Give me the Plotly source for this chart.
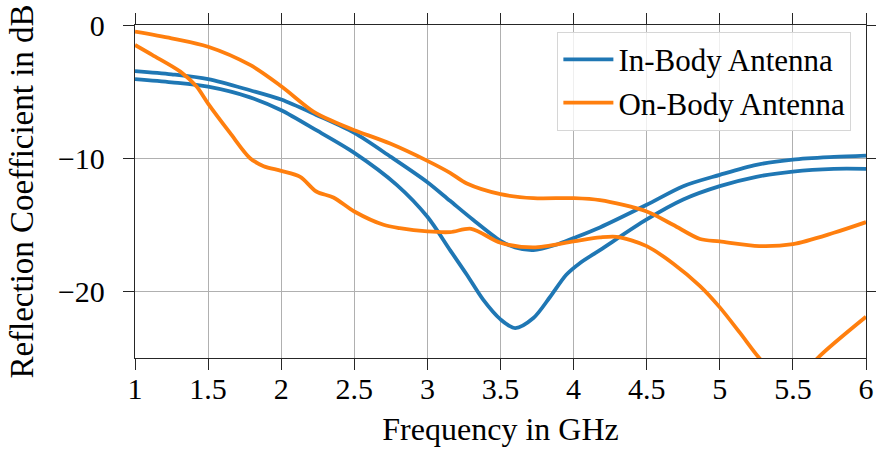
import plotly.graph_objects as go

# Reflection coefficient (S11) of the two antennas, two curves per antenna
in_body_a_x = [1.0, 1.25, 1.5, 1.787, 2.0, 2.24, 2.5, 2.75, 3.0, 3.155, 3.31, 3.5, 3.6,
               3.725, 3.88, 4.0, 4.18, 4.5, 4.75, 5.0, 5.25, 5.5, 5.78, 6.0]
in_body_a_y = [-3.46, -3.7, -4.06, -4.9, -5.6, -6.75, -8.1, -9.9, -11.8, -13.2, -14.6, -16.2, -16.7,
               -16.9, -16.5, -16.0, -15.2, -13.5, -12.1, -11.25, -10.5, -10.1, -9.9, -9.8]

in_body_b_x = [1.0, 1.25, 1.5, 1.787, 2.0, 2.24, 2.5, 2.79, 3.0, 3.155, 3.27, 3.38, 3.5, 3.6,
               3.725, 3.84, 3.95, 4.04, 4.18, 4.5, 4.75, 5.0, 5.25, 5.5, 5.78, 6.0]
in_body_b_y = [-4.06, -4.3, -4.63, -5.43, -6.4, -7.9, -9.6, -12.0, -14.4, -16.9, -18.75, -20.6, -22.1, -22.75,
               -22.0, -20.4, -18.75, -17.9, -16.9, -14.6, -13.1, -12.1, -11.4, -11.0, -10.8, -10.8]

on_body_a_x = [1.0, 1.25, 1.5, 1.787, 2.0, 2.22, 2.357, 2.5, 2.745, 3.0, 3.155, 3.27, 3.5, 3.725,
               4.0, 4.18, 4.5, 4.68, 4.865, 5.0, 5.27, 5.5, 5.78, 6.0]
on_body_a_y = [-0.5, -1.0, -1.63, -3.0, -4.6, -6.5, -7.25, -7.9, -8.9, -10.2, -11.1, -11.9, -12.7, -13.0,
               -13.0, -13.15, -14.0, -15.0, -16.07, -16.25, -16.6, -16.45, -15.6, -14.8]

on_body_b_x = [1.0, 1.12, 1.31, 1.42, 1.5, 1.65, 1.787, 1.88, 2.0, 2.13, 2.24, 2.357, 2.5, 2.7, 2.81,
               3.0, 3.155, 3.3, 3.5, 3.725, 4.0, 4.18, 4.295, 4.5, 4.68, 4.865, 5.0, 5.137, 5.27,
               5.4, 5.5, 5.6, 5.67, 6.0]
on_body_b_y = [-1.5, -2.26, -3.5, -4.6, -5.9, -8.1, -10.0, -10.6, -10.95, -11.4, -12.5, -12.95, -14.0, -15.0, -15.25,
               -15.5, -15.55, -15.3, -16.35, -16.7, -16.25, -15.95, -15.9, -16.6, -17.9, -19.6, -21.2, -23.1, -25.0,
               -26.4, -26.8, -26.0, -25.0, -21.9]

x_ticks = [1, 1.5, 2, 2.5, 3, 3.5, 4, 4.5, 5, 5.5, 6]
y_ticks = [-20, -10, 0]

BLUE = "#1f77b4"
ORANGE = "#ff7f0e"
FONT = "'Liberation Serif', 'DejaVu Serif', serif"

fig = go.Figure()
series = [
    (in_body_a_x, in_body_a_y, BLUE, "In-Body Antenna", True),
    (in_body_b_x, in_body_b_y, BLUE, "In-Body Antenna", False),
    (on_body_a_x, on_body_a_y, ORANGE, "On-Body Antenna", True),
    (on_body_b_x, on_body_b_y, ORANGE, "On-Body Antenna", False),
]
for xs, ys, color, name, show in series:
    fig.add_trace(go.Scatter(
        x=xs, y=ys, mode="lines", name=name, showlegend=show,
        line=dict(color=color, width=3.8, shape="spline", smoothing=0.85),
    ))

axis_common = dict(
    showline=True, linecolor="#262626", linewidth=1.3, mirror="ticks",
    ticks="outside", ticklen=11, tickwidth=1.3, tickcolor="#262626",
    showgrid=True, gridcolor="#b0b0b0", gridwidth=1, zeroline=False,
    automargin=False,
    tickfont=dict(family=FONT, size=30, color="black"),
)

fig.update_layout(
    width=876, height=452,
    margin=dict(l=135, r=10, t=25, b=94),
    plot_bgcolor="white", paper_bgcolor="white",
    font=dict(family=FONT, color="black"),
    xaxis=dict(range=[1, 6], tickvals=x_ticks, ticklabelstandoff=-7,
               title=dict(text="Frequency in GHz", font=dict(family=FONT, size=32), standoff=13),
               **axis_common),
    yaxis=dict(range=[-25, 0], tickvals=y_ticks, ticklabelstandoff=12,
               title=dict(text="Reflection Coefficient in dB", font=dict(family=FONT, size=33), standoff=14),
               **axis_common),
    legend=dict(x=0.98, y=0.98, xanchor="right", yanchor="top", tracegroupgap=0,
                itemwidth=50,
                bgcolor="rgba(255,255,255,0.8)", bordercolor="#d6d6d6", borderwidth=1,
                font=dict(family=FONT, size=31, color="black")),
)

fig.write_html("out.html")
